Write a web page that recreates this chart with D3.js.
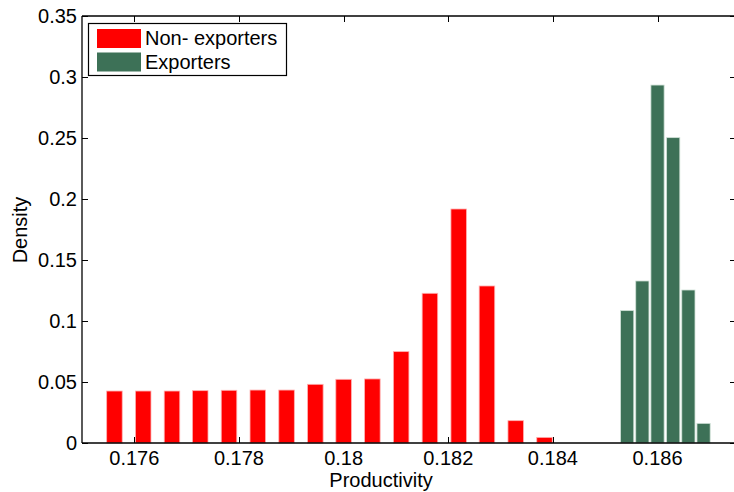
<!DOCTYPE html>
<html>
<head>
<meta charset="utf-8">
<script src="https://cdn.jsdelivr.net/npm/d3@7"></script>
<style>
  html, body { margin: 0; padding: 0; background: #fff; }
  svg { display: block; font-family: "Liberation Sans", Arial, sans-serif; }
</style>
</head>
<body>
<svg id="chart" width="734" height="492"></svg>
<script>
// Histogram bin centres (productivity) and densities
const nonExporterBins = [0.17562, 0.17617, 0.17672, 0.17726, 0.17781, 0.17836, 0.17891, 0.17946,
                         0.18000, 0.18055, 0.18110, 0.18165, 0.18220, 0.18274, 0.18329, 0.18384];
const nonExporterDensity = [0.0426, 0.0426, 0.0426, 0.0429, 0.0432, 0.0434, 0.0434, 0.0481,
                            0.0522, 0.0525, 0.0749, 0.1227, 0.1918, 0.1287, 0.0183, 0.0046];
const exporterBins = [0.18542, 0.18571, 0.18600, 0.18630, 0.18659, 0.18688];
const exporterDensity = [0.1085, 0.1328, 0.2934, 0.2503, 0.1254, 0.0161];

const xTicks = [0.176, 0.178, 0.18, 0.182, 0.184, 0.186];
const xTickLabels = ["0.176", "0.178", "0.18", "0.182", "0.184", "0.186"];
const yTicks = [0, 0.05, 0.1, 0.15, 0.2, 0.25, 0.3, 0.35];
const yTickLabels = ["0", "0.05", "0.1", "0.15", "0.2", "0.25", "0.3", "0.35"];
const seriesNames = ["Non- exporters", "Exporters"];

(function () {
const svg = d3.select("#chart");
const mLeft = 82, mRight = 736, mTop = 16, mBottom = 443;

const x = d3.scaleLinear().domain([0.175, 0.1875]).range([mLeft, mRight]);
const y = d3.scaleLinear().domain([0, 0.35]).range([mBottom, mTop]);

const red = "#ff0000", green = "#3d7157";
const tickLen = 6;

// Inward tick marks on all four sides (drawn beneath the bars)
const ticks = svg.append("g").attr("stroke", "#000").attr("stroke-width", 1)
  .attr("shape-rendering", "crispEdges");
xTicks.forEach(t => {
  const px = Math.round(x(t)) + 0.5;
  ticks.append("line").attr("x1", px).attr("x2", px).attr("y1", mBottom).attr("y2", mBottom - tickLen);
  ticks.append("line").attr("x1", px).attr("x2", px).attr("y1", mTop).attr("y2", mTop + tickLen);
});
yTicks.forEach(t => {
  const py = Math.round(y(t)) + 0.5;
  ticks.append("line").attr("x1", mLeft).attr("x2", mLeft + tickLen).attr("y1", py).attr("y2", py);
  ticks.append("line").attr("x1", mRight).attr("x2", mRight - tickLen).attr("y1", py).attr("y2", py);
});

// Bars
function drawBars(bins, vals, color, edge, ratio) {
  const step = bins[1] - bins[0];
  const w = x(bins[0] + step * ratio / 2) - x(bins[0] - step * ratio / 2);
  svg.append("g").selectAll("rect").data(bins.map((b, i) => ({ b, v: vals[i] })))
    .join("rect")
    .attr("x", d => x(d.b) - w / 2)
    .attr("width", w)
    .attr("y", d => y(d.v))
    .attr("height", d => y(0) - y(d.v))
    .attr("fill", color)
    .attr("stroke", edge)
    .attr("stroke-width", 0.8);
}
drawBars(nonExporterBins, nonExporterDensity, red, "#ffb0b0", 0.54);
drawBars(exporterBins, exporterDensity, green, "#cfe0d6", 0.87);

// Axis box lines
const box = svg.append("g").attr("stroke", "#000").attr("stroke-width", 1.3).attr("fill", "none");
box.append("line").attr("x1", mLeft).attr("x2", mLeft).attr("y1", mTop).attr("y2", mBottom);
box.append("line").attr("x1", mLeft).attr("x2", mRight).attr("y1", mBottom).attr("y2", mBottom);
box.append("line").attr("x1", mLeft).attr("x2", mRight).attr("y1", mTop).attr("y2", mTop);
box.append("line").attr("x1", mRight).attr("x2", mRight).attr("y1", mTop).attr("y2", mBottom);

// Tick labels
svg.append("g").selectAll("text").data(xTicks).join("text")
  .attr("x", d => x(d)).attr("y", 465)
  .attr("text-anchor", "middle").attr("font-size", 20).attr("fill", "#000")
  .text((d, i) => xTickLabels[i]);
svg.append("g").selectAll("text").data(yTicks).join("text")
  .attr("x", 77).attr("y", d => y(d)).attr("dy", "0.36em")
  .attr("text-anchor", "end").attr("font-size", 20).attr("fill", "#000")
  .text((d, i) => yTickLabels[i]);

// Axis titles
svg.append("text").attr("x", 381).attr("y", 487).attr("text-anchor", "middle")
  .attr("font-size", 20).attr("fill", "#000").text("Productivity");
svg.append("text").attr("transform", "translate(27,230) rotate(-90)").attr("text-anchor", "middle")
  .attr("font-size", 20).attr("fill", "#000").text("Density");

// Legend
const lg = svg.append("g");
lg.append("rect").attr("x", 88.5).attr("y", 23.5).attr("width", 198).attr("height", 52)
  .attr("fill", "#fff").attr("stroke", "#000").attr("stroke-width", 1.2);
[red, green].forEach((c, i) => {
  lg.append("rect").attr("x", 97).attr("y", 29 + i * 23.5).attr("width", 44).attr("height", 19)
    .attr("fill", c);
  lg.append("text").attr("x", 145).attr("y", 45 + i * 23.5).attr("font-size", 20)
    .attr("fill", "#000").text(seriesNames[i]);
});
})();
</script>
</body>
</html>
